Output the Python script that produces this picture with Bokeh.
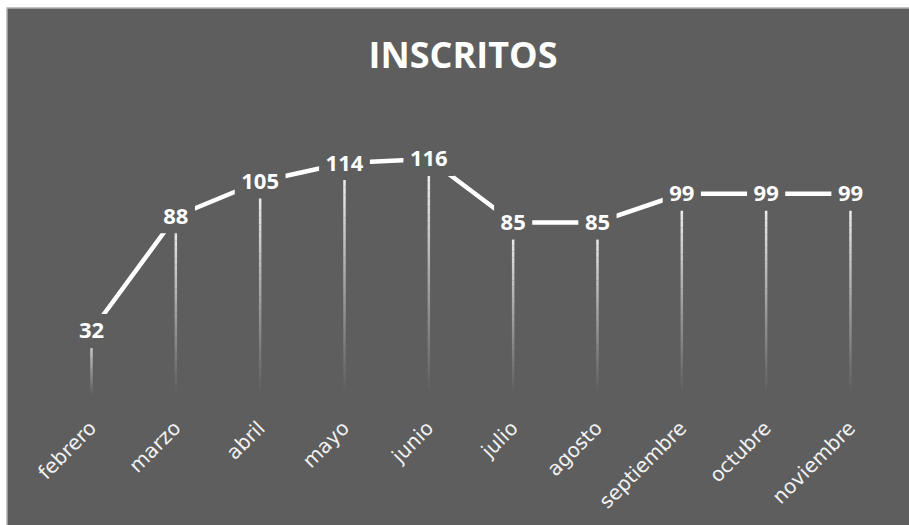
import numpy as np
from bokeh.plotting import figure
from bokeh.models import Range1d, Label, ColumnDataSource, Span
from bokeh.core.properties import value
from bokeh.embed import file_html
from bokeh.resources import INLINE

# ---- data ----
months = ["febrero", "marzo", "abril", "mayo", "junio", "julio", "agosto",
          "septiembre", "octubre", "noviembre"]
inscritos = [32, 88, 105, 114, 116, 85, 85, 99, 99, 99]
title_text = "INSCRITOS"

BG = "#5e5e5e"
W, H = 909, 525

idx = list(range(len(months)))
labels = [str(v) for v in inscritos]

xr = Range1d(-1.008, 9.700)
yr = Range1d(-62.99, 189.94)
p = figure(width=W, height=H, output_backend="svg", toolbar_location=None,
           title=None, x_axis_location=None, y_axis_location=None,
           x_range=xr, y_range=yr,
           min_border_left=6, min_border_top=7, min_border_right=0,
           min_border_bottom=0, background_fill_color=BG,
           border_fill_color="white", outline_line_color=None)
p.grid.visible = False

# chart-area border (top and left edges only are visible in the reference)
p.add_layout(Span(location=xr.start, dimension="height",
                  line_color="#d9d9d9", line_width=2))
p.add_layout(Span(location=yr.end, dimension="width",
                  line_color="#d9d9d9", line_width=2))

# drop lines with a vertical gradient (fading toward the baseline)
N = 30
x0s, y0s, x1s, y1s, alphas = [], [], [], [], []
for i, v in zip(idx, inscritos):
    for k in range(N):
        a = v * k / N
        b = v * (k + 1) / N
        x0s.append(i); x1s.append(i)
        y0s.append(a); y1s.append(b)
        alphas.append(((k + 0.5) / N) ** 1.1 * 0.97)
p.segment(x0=x0s, y0=y0s, x1=x1s, y1=y1s, line_color="white",
          line_width=2.5, line_alpha=alphas, line_cap="butt")

# main line
p.line(idx, inscritos, line_color="white", line_width=4.5)

# label backgrounds (hide line under labels)
src = ColumnDataSource(dict(x=idx, y=inscritos, t=labels,
                            w=[12.6 * len(t) + 13 for t in labels]))
p.rect(x="x", y="y", width="w", height=34, width_units="screen",
       height_units="screen", source=src, fill_color=BG, line_color=None)
p.text(x="x", y="y", text="t", source=src, text_color="white",
       text_font=value("Open Sans"), text_font_style="bold",
       text_font_size="22px", text_align="center", text_baseline="middle")

# category labels (rotated)
p.text(x=idx, y=[0] * len(idx), text=months, angle=np.pi / 4,
       text_align="right", text_baseline="middle", x_offset=1, y_offset=28,
       text_color="#f2f2f2", text_font=value("DejaVu Sans"),
       text_font_size="20px")

# title (centred over the chart area)
p.add_layout(Label(x=4.405, y=167, text=title_text, text_align="center",
                   text_baseline="middle", text_color="white",
                   text_font="Open Sans", text_font_style="bold",
                   text_font_size="36px"))

open("out.html", "w").write(file_html(p, INLINE))
